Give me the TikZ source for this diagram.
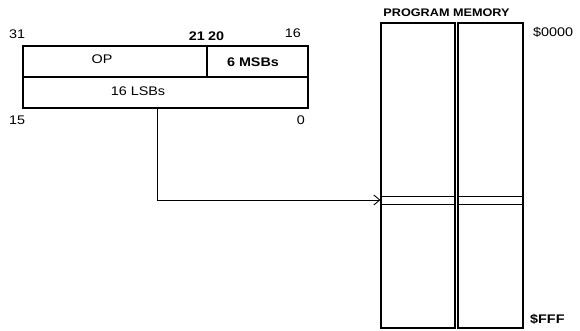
\documentclass[tikz,border=0pt]{standalone}
\usepackage{fontspec}
\setmainfont[FakeStretch=1.15]{Liberation Sans}
\usetikzlibrary{arrows.meta}
\begin{document}
\begin{tikzpicture}[x=1pt,y=-1pt,
  box/.style={draw,line width=1.1pt},
  lbl/.style={font=\fontsize{12.5}{13}\selectfont, inner sep=0pt},
  blbl/.style={font=\fontsize{12.5}{13}\selectfont\bfseries, inner sep=0pt},
  wire/.style={line width=0.9pt}]
\useasboundingbox (0,0) rectangle (580,331);
% instruction word
\node[box, minimum width=184pt, minimum height=31pt, inner sep=0pt] (op) at (115,61.5) {};
\node[box, minimum width=101pt, minimum height=31pt, inner sep=0pt] (msb) at (257.5,61.5) {};
\node[box, minimum width=285pt, minimum height=31pt, inner sep=0pt] (lsb) at (165.5,92.5) {};
\node[lbl] (optext) at (102,59) {OP};
\node[blbl] (msbtext) at (253,62) {6 MSBs};
\node[lbl] (lsbtext) at (138,91.5) {16 LSBs};
\node[lbl, anchor=west] (b31) at (9,34) {31};
\node[blbl, anchor=east] (b21) at (205,36) {21};
\node[blbl, anchor=west] (b20) at (208,36) {20};
\node[lbl, anchor=east] (b16) at (301,33) {16};
\node[lbl, anchor=west] (b15) at (9,120) {15};
\node[lbl, anchor=east] (b0) at (305,120) {0};
% memory
\node[box, minimum width=74pt, minimum height=305pt, inner sep=0pt] (m1) at (418,175.5) {};
\node[box, minimum width=65pt, minimum height=305pt, inner sep=0pt] (m2) at (490.5,175.5) {};
\node[blbl, font=\fontsize{11}{12}\selectfont\bfseries] (pm) at (446.5,13) {PROGRAM MEMORY};
\node[lbl, anchor=west] (a0) at (533,32) {\$0000};
\node[blbl, anchor=west] (af) at (530,319) {\$FFF};
\draw[wire] (m1.west |- 0,196) -- (m1.east |- 0,196);
\draw[wire] (m1.west |- 0,204) -- (m1.east |- 0,204);
\draw[wire] (m2.west |- 0,196) -- (m2.east |- 0,196);
\draw[wire] (m2.west |- 0,204) -- (m2.east |- 0,204);
\coordinate (tgt) at (m1.west |- 0,200);
% pointer
\draw[wire, -{Straight Barb[length=6pt,width=10pt]}] (lsb.south -| 157,0) |- (tgt);
\end{tikzpicture}
\end{document}
